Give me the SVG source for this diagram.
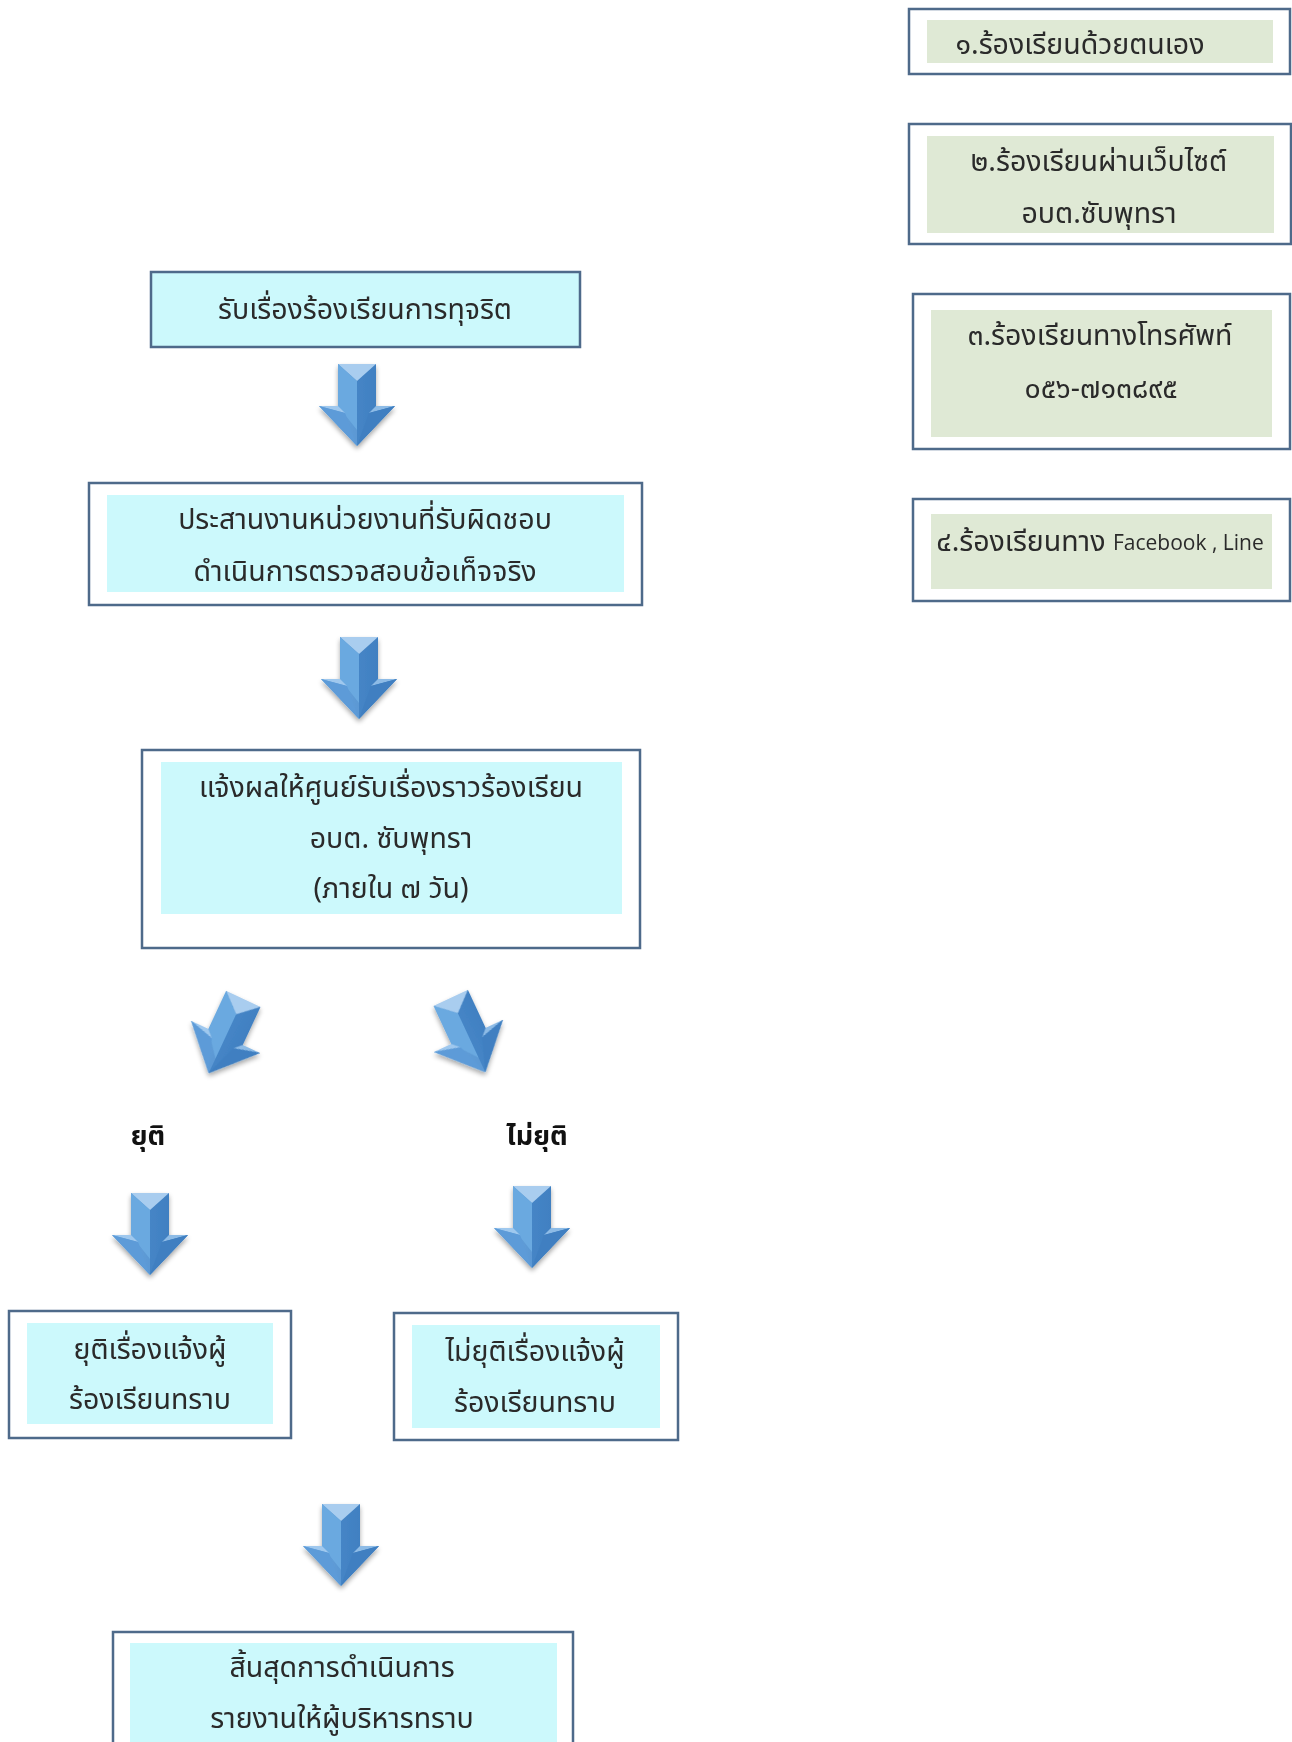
<svg xmlns="http://www.w3.org/2000/svg" width="1292" height="1742" viewBox="0 0 1292 1742">
<style>
.ob{fill:#ffffff;stroke:#4e6a8a;stroke-width:2.5}
.cy{fill:#ccf9fc}
.gr{fill:#dfe9d5}
.t{font-family:"Noto Sans Thai","Noto Sans","DejaVu Sans",sans-serif;font-size:28.5px;fill:#2a2a2a;text-anchor:middle;dominant-baseline:central}
.lb{font-family:"Noto Sans Thai","Noto Sans","DejaVu Sans",sans-serif;font-size:27px;font-weight:bold;fill:#111;text-anchor:middle;dominant-baseline:central}
.en{font-family:"Open Sans","DejaVu Sans",sans-serif;font-size:21px}
</style>
<defs>
<linearGradient id="gs" x1="0" y1="0" x2="1" y2="0">
<stop offset="0" stop-color="#6aa7de"/><stop offset="0.5" stop-color="#5b98d4"/><stop offset="0.5" stop-color="#4585c6"/><stop offset="1" stop-color="#3d7bbd"/>
</linearGradient>
<filter id="sh" x="-30%" y="-30%" width="160%" height="160%">
<feGaussianBlur in="SourceAlpha" stdDeviation="2.5"/><feOffset dx="0" dy="3"/><feComponentTransfer><feFuncA type="linear" slope="0.35"/></feComponentTransfer>
<feMerge><feMergeNode/><feMergeNode in="SourceGraphic"/></feMerge>
</filter>
<g id="arr">
<polygon points="-19,-41 19,-41 19,1 38,1 0,41 -38,1 -19,1" fill="url(#gs)"/>
<polygon points="-19,-41 19,-41 0,-24" fill="#a9cdef"/>
<polygon points="-19,-41 0,-24 0,25 -19,1" fill="#6aa9e0"/>
<polygon points="-38,1 -19,1 -12,8" fill="#9fc8ee"/>
<polygon points="38,1 19,1 12,8" fill="#8dbbe6"/>
<polygon points="-38,1 -12,8 0,41" fill="#5d9bd8"/>
<polygon points="38,1 12,8 0,41" fill="#3f7fc1"/>
</g>
</defs>
<rect width="1292" height="1742" fill="#ffffff"/>

<g id="connectors" filter="url(#sh)">
<use href="#arr" transform="translate(357,405)"/>
<use href="#arr" transform="translate(359,678)"/>
<use href="#arr" transform="translate(226,1036) rotate(25)"/>
<use href="#arr" transform="translate(468,1035) rotate(-25)"/>
<use href="#arr" transform="translate(150,1234)"/>
<use href="#arr" transform="translate(532,1227)"/>
<use href="#arr" transform="translate(341,1545)"/>
</g>

<g id="ch1">
<rect class="ob" x="909" y="9" width="381" height="65"/>
<rect class="gr" x="927" y="20" width="346" height="43"/>
<text class="t" x="1080" y="45">๑.ร้องเรียนด้วยตนเอง</text>
</g>
<g id="ch2">
<rect class="ob" x="909" y="124" width="382" height="120"/>
<rect class="gr" x="927" y="136" width="347" height="97"/>
<text class="t" x="1099" y="162">๒.ร้องเรียนผ่านเว็บไซต์</text>
<text class="t" x="1099" y="214">อบต.ซับพุทรา</text>
</g>
<g id="ch3">
<rect class="ob" x="913" y="294" width="377" height="155"/>
<rect class="gr" x="931" y="310" width="341" height="127"/>
<text class="t" x="1100" y="336">๓.ร้องเรียนทางโทรศัพท์</text>
<text class="t" x="1101" y="389">๐๕๖-๗๑๓๘๙๕</text>
</g>
<g id="ch4">
<rect class="ob" x="913" y="499" width="377" height="102"/>
<rect class="gr" x="931" y="514" width="341" height="75"/>
<text class="t" x="1100" y="542">๔.ร้องเรียนทาง <tspan class="en">Facebook , Line</tspan></text>
</g>

<g id="n1">
<rect x="151" y="272" width="429" height="75" fill="#ccf9fc" stroke="#4e6a8a" stroke-width="2.5"/>
<text class="t" x="365" y="310">รับเรื่องร้องเรียนการทุจริต</text>
</g>
<g id="n2">
<rect class="ob" x="89" y="483" width="553" height="122"/>
<rect class="cy" x="107" y="495" width="517" height="97"/>
<text class="t" x="365" y="520">ประสานงานหน่วยงานที่รับผิดชอบ</text>
<text class="t" x="365" y="572">ดำเนินการตรวจสอบข้อเท็จจริง</text>
</g>
<g id="n3">
<rect class="ob" x="142" y="750" width="498" height="198"/>
<rect class="cy" x="161" y="762" width="461" height="152"/>
<text class="t" x="391" y="788">แจ้งผลให้ศูนย์รับเรื่องราวร้องเรียน</text>
<text class="t" x="391" y="839">อบต. ซับพุทรา</text>
<text class="t" x="391" y="889">(ภายใน ๗ วัน)</text>
</g>

<text id="l1" class="lb" x="148" y="1136">ยุติ</text>
<text id="l2" class="lb" x="537" y="1136">ไม่ยุติ</text>

<g id="n4">
<rect class="ob" x="9" y="1311" width="282" height="127"/>
<rect class="cy" x="27" y="1323" width="246" height="101"/>
<text class="t" x="150" y="1350">ยุติเรื่องแจ้งผู้</text>
<text class="t" x="150" y="1400">ร้องเรียนทราบ</text>
</g>
<g id="n5">
<rect class="ob" x="394" y="1313" width="284" height="127"/>
<rect class="cy" x="412" y="1325" width="248" height="103"/>
<text class="t" x="535" y="1352">ไม่ยุติเรื่องแจ้งผู้</text>
<text class="t" x="535" y="1403">ร้องเรียนทราบ</text>
</g>
<g id="n6">
<rect class="ob" x="113" y="1632" width="460" height="120"/>
<rect class="cy" x="130" y="1643" width="427" height="110"/>
<text class="t" x="342" y="1668">สิ้นสุดการดำเนินการ</text>
<text class="t" x="342" y="1719">รายงานให้ผู้บริหารทราบ</text>
</g>
</svg>
